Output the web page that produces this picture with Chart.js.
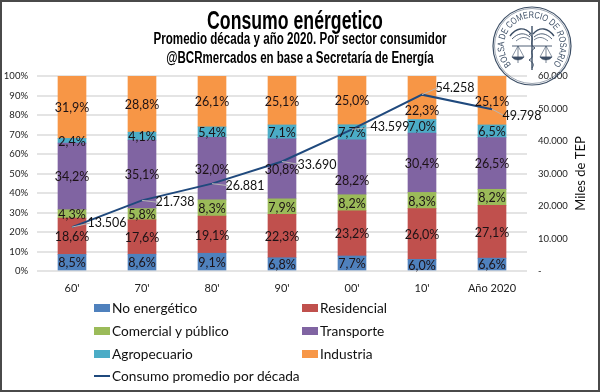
<!DOCTYPE html>
<html>
<head>
<meta charset="utf-8">
<title>Consumo enérgetico</title>
<script src="https://cdn.jsdelivr.net/npm/chart.js@4"></script>
<style>
    html, body { margin: 0; padding: 0; background: #fff; }
    #frame { position: relative; width: 600px; height: 392px; overflow: hidden; }
    #frame::after { content: ""; position: absolute; inset: 0; border: 2px solid #4a4a4a; box-sizing: border-box; pointer-events: none; }
    canvas { position: absolute; left: 0; top: 0; }
    .head { position: absolute; left: 0; width: 600px; text-align: center; font-family: "Liberation Sans", sans-serif; font-weight: bold; color: #000; white-space: nowrap; }
    #title { top: 6px; left: -5px; font-size: 26px; line-height: 28px; transform: scaleX(0.68); }
    #sub1 { top: 30px; font-size: 16px; line-height: 18px; transform: scaleX(0.726); }
    #sub2 { top: 49px; font-size: 16px; line-height: 18px; transform: scaleX(0.72); }
    #logo { position: absolute; left: 488px; top: 2px; }
    #legend { position: absolute; left: 0; top: 0; font-family: Lato, sans-serif; font-size: 13.7px; color: #111; }
    .item { position: absolute; white-space: nowrap; line-height: 18px; }
    .swatch { position: absolute; left: -18px; top: 5px; width: 16px; height: 8px; }
    .stroke { position: absolute; left: -18px; top: 8px; width: 16px; height: 2px; }
</style>
</head>
<body>
<div id="frame">
    <canvas id="chart" width="600" height="392"></canvas>
    <div class="head" id="title">Consumo enérgetico</div>
    <div class="head" id="sub1">Promedio década y año 2020. Por sector consumidor</div>
    <div class="head" id="sub2">@BCRmercados en base a Secretaría de Energía</div>
    <svg id="logo" width="88" height="88" viewBox="-44 -44 88 88">
        <g fill="none" stroke="#3d4f66">
            <circle r="39" stroke-width="1.2"/>
            <circle r="37.5" stroke-width="0.5"/>
            <path d="M0 -20V24" stroke-width="1.4"/>
            <path d="M-3 -12C5 -8 -5 -2 3 2C-5 6 5 10 -3 14C2 17 2 19 0 22" stroke-width="1"/>
            <path d="M-1 -12C-8 -20 -16 -18 -22 -10M1 -12C8 -20 16 -18 22 -10" stroke-width="1.4"/>
            <path d="M-2 -9C-8 -14 -14 -13 -20 -7M2 -9C8 -14 14 -13 20 -7" stroke-width="0.9"/>
            <path d="M-2 -6C-7 -10 -11 -9 -16 -5M2 -6C7 -10 11 -9 16 -5" stroke-width="0.7"/>
            <path d="M-20 0H20" stroke-width="0.9"/>
            <path d="M-14 0V17M14 0V17" stroke-width="0.7"/>
            <path d="M-14 0L-20 11H-8ZM14 0L8 11H20Z" stroke-width="0.6"/>
            <path d="M-20 11C-18 15 -10 15 -8 11ZM8 11C10 15 18 15 20 11Z" fill="#3d4f66" stroke-width="0.4"/>
        </g>
        <path id="ring" d="M-20.8 18.7A28 28 0 1 1 20.8 18.7" fill="none"/>
        <text font-family="Liberation Sans, sans-serif" font-size="9.5" fill="#3d4f66">
            <textPath href="#ring" textLength="128" lengthAdjust="spacingAndGlyphs">BOLSA DE COMERCIO DE ROSARIO</textPath>
        </text>
    </svg>
    <div id="legend"></div>
</div>
<script>
// --- Chart data ---
const categories = ["60'", "70'", "80'", "90'", "00'", "10'", "Año 2020"];
const noEnergetico = [8.5, 8.6, 9.1, 6.8, 7.7, 6.0, 6.6];
const residencial = [18.6, 17.6, 19.1, 22.3, 23.2, 26.0, 27.1];
const comercial = [4.3, 5.8, 8.3, 7.9, 8.2, 8.3, 8.2];
const transporte = [34.2, 35.1, 32.0, 30.8, 28.2, 30.4, 26.5];
const agropecuario = [2.4, 4.1, 5.4, 7.1, 7.7, 7.0, 6.5];
const industria = [31.9, 28.8, 26.1, 25.1, 25.0, 22.3, 25.1];
const consumoPromedio = [13506, 21738, 26881, 33690, 43599, 54258, 49798];
const leftTicks = ["0%", "10%", "20%", "30%", "40%", "50%", "60%", "70%", "80%", "90%", "100%"];
const rightTicks = ["-", "10.000", "20.000", "30.000", "40.000", "50.000", "60.000"];

// where the line labels sit, relative to their point
const lineLabelOffsets = [[35, -4], [33, 2], [33, 2], [35, 3], [38, -2], [33, -7], [30, 7]];
// bar labels pushed down off the line in the original: "series|category" -> px
const labelNudges = {"Transporte|00'": 13, "Industria|10'": 12};

function barSet(label, data, color){
    return {label, data, backgroundColor: color, stack: "share", yAxisID: "y", order: 2, barThickness: 28};
}

function formatMiles(value){
    return String(value).replace(/\B(?=(\d{3})+$)/g, ".");
}

// --- Value labels and the upward axis title (no datalabels plugin available) ---
const valueLabels = {
    id: "valueLabels",
    afterDatasetsDraw(chart){
        const ctx = chart.ctx;
        ctx.save();
        ctx.textAlign = "center";
        ctx.textBaseline = "middle";
        ctx.font = '12.5px Lato, sans-serif';
        chart.data.datasets.forEach((ds, i) => {
            if (ds.type === "line") return;
            ctx.fillStyle = "#1c1216";
            chart.getDatasetMeta(i).data.forEach((bar, j) => {
                let mid = (bar.y + bar.base) / 2 + 1 + (labelNudges[ds.label + "|" + categories[j]] || 0);
                ctx.fillText(ds.data[j].toFixed(1).replace(".", ",") + "%", bar.x, mid);
            });
        });
        // line labels with their leader lines
        const lineIndex = chart.data.datasets.findIndex(ds => ds.type === "line");
        chart.getDatasetMeta(lineIndex).data.forEach((pt, j) => {
            const [dx, dy] = lineLabelOffsets[j];
            ctx.strokeStyle = "#b5b5b5";
            ctx.lineWidth = 1;
            ctx.beginPath();
            ctx.moveTo(pt.x, pt.y);
            ctx.lineTo(pt.x + dx - 17, pt.y + dy);
            ctx.stroke();
            ctx.fillStyle = "#111";
            ctx.fillText(formatMiles(consumoPromedio[j]), pt.x + dx, pt.y + dy);
        });
        // axis title reads upward, the scale title would read downward
        const axis = chart.scales.y1;
        ctx.translate(581, (axis.top + axis.bottom) / 2);
        ctx.rotate(-Math.PI / 2);
        ctx.font = '13px Lato, sans-serif';
        ctx.fillText("Miles de TEP", 0, 0);
        ctx.restore();
    }
};

// --- Chart ---
const chart = new Chart(document.getElementById("chart"), {
    type: "bar",
    data: {
        labels: categories,
        datasets: [
            {type: "line", label: "Consumo promedio por década", data: consumoPromedio, yAxisID: "y1", borderColor: "#1F497D", backgroundColor: "#1F497D", borderWidth: 2, pointRadius: 0, tension: 0, order: 1},
            barSet("No energético", noEnergetico, "#4F81BD"),
            barSet("Residencial", residencial, "#C0504D"),
            barSet("Comercial y público", comercial, "#9BBB59"),
            barSet("Transporte", transporte, "#8064A2"),
            barSet("Agropecuario", agropecuario, "#4BACC6"),
            barSet("Industria", industria, "#F79646")
        ]
    },
    options: {
        responsive: false,
        animation: false,
        layout: {padding: {top: 76, bottom: 81, left: 0, right: 0}},
        plugins: {legend: {display: false}, tooltip: {enabled: false}},
        scales: {
            x: {
                stacked: true,
                grid: {display: false},
                border: {display: false},
                ticks: {color: "#222", font: {family: "Lato", size: 11}, padding: 3},
                afterFit(scale){ scale.height = 40; }
            },
            y: {
                stacked: true,
                min: 0,
                max: 100,
                position: "left",
                grid: {color: "#e4e4e4", lineWidth: 2, drawTicks: false},
                border: {display: false},
                ticks: {stepSize: 10, padding: 9, color: "#222", font: {family: "Lato", size: 9.5}, callback: (v, i) => leftTicks[i]},
                afterFit(scale){ scale.width = 37; }
            },
            y1: {
                min: 0,
                max: 60000,
                position: "right",
                grid: {display: false, drawTicks: false},
                border: {display: false},
                ticks: {stepSize: 10000, padding: 11, color: "#222", font: {family: "Lato", size: 9.5}, callback: (v, i) => rightTicks[i]},
                afterFit(scale){ scale.width = 73; }
            }
        }
    },
    plugins: [valueLabels]
});

// --- Legend, built from the chart's datasets ---
const legendBox = document.getElementById("legend");
const legendSlots = {
    "No energético": [112, 299], "Residencial": [320, 299],
    "Comercial y público": [112, 322], "Transporte": [320, 322],
    "Agropecuario": [112, 345], "Industria": [320, 345],
    "Consumo promedio por década": [112, 367]
};
chart.data.datasets.forEach(ds => {
    const [left, top] = legendSlots[ds.label];
    const item = document.createElement("div");
    item.className = "item";
    item.style.left = left + "px";
    item.style.top = top + "px";
    const mark = document.createElement("span");
    mark.className = ds.type === "line" ? "stroke" : "swatch";
    mark.style.background = ds.backgroundColor;
    item.appendChild(mark);
    item.appendChild(document.createTextNode(ds.label));
    legendBox.appendChild(item);
});
</script>
</body>
</html>
